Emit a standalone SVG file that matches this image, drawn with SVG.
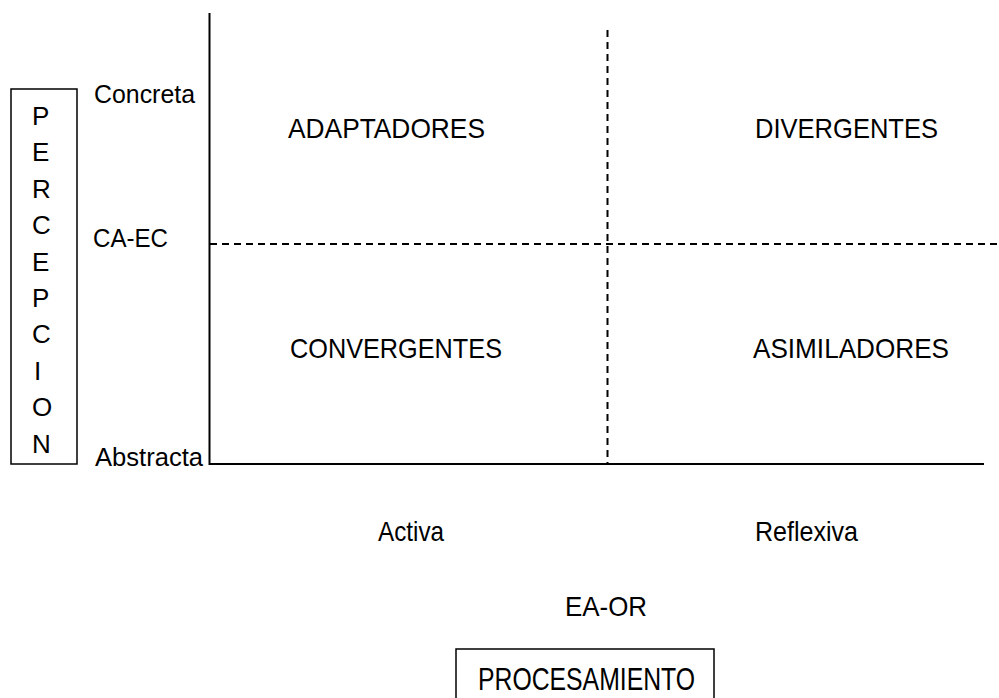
<svg xmlns="http://www.w3.org/2000/svg" width="999" height="698" viewBox="0 0 999 698">
<style>
  text { font-family: "Liberation Sans", Arial, sans-serif; fill: #000; }
  .lbl { font-size: 25px; }
  .q { font-size: 28px; }
  .axis { stroke: #000; stroke-width: 2; fill: none; }
  .dash { stroke: #000; stroke-width: 2; fill: none; stroke-dasharray: 7 5; }
  .box { stroke: #000; stroke-width: 1.5; fill: #fff; }
  .v { font-size: 26px; }
</style>
<rect width="999" height="698" fill="#fff"/>
<g id="connectors">
  <line class="axis" x1="209.5" y1="13" x2="209.5" y2="465"/>
  <line class="axis" x1="209" y1="464" x2="984" y2="464"/>
  <line class="dash" x1="607.5" y1="30" x2="607.5" y2="464"/>
  <line class="dash" x1="210" y1="244" x2="999" y2="244"/>
</g>
<g id="percepcion">
  <rect class="box" x="11" y="89" width="66" height="375"/>
  <text class="v" x="32" y="125">P</text>
  <text class="v" x="32" y="161.4">E</text>
  <text class="v" x="32" y="197.8">R</text>
  <text class="v" x="32" y="234.2">C</text>
  <text class="v" x="32" y="270.6">E</text>
  <text class="v" x="32" y="307">P</text>
  <text class="v" x="32" y="343.4">C</text>
  <text class="v" x="34" y="379.8">I</text>
  <text class="v" x="32" y="416.2">O</text>
  <text class="v" x="32" y="452.6">N</text>
</g>
<g id="y-labels">
  <text class="lbl" x="94" y="103" textLength="101" lengthAdjust="spacingAndGlyphs">Concreta</text>
  <text class="lbl" x="93" y="247" textLength="75" lengthAdjust="spacingAndGlyphs">CA-EC</text>
  <text class="lbl" x="95" y="466" textLength="108" lengthAdjust="spacingAndGlyphs">Abstracta</text>
</g>
<g id="adaptadores"><text class="q" x="288" y="138" textLength="197" lengthAdjust="spacingAndGlyphs">ADAPTADORES</text></g>
<g id="divergentes"><text class="q" x="755" y="138" textLength="183" lengthAdjust="spacingAndGlyphs">DIVERGENTES</text></g>
<g id="convergentes"><text class="q" x="290" y="358" textLength="212" lengthAdjust="spacingAndGlyphs">CONVERGENTES</text></g>
<g id="asimiladores"><text class="q" x="753" y="358" textLength="196" lengthAdjust="spacingAndGlyphs">ASIMILADORES</text></g>
<g id="x-labels">
  <text class="q" x="378" y="541" textLength="66" lengthAdjust="spacingAndGlyphs">Activa</text>
  <text class="q" x="755" y="541" textLength="103" lengthAdjust="spacingAndGlyphs">Reflexiva</text>
  <text class="q" x="565" y="616" textLength="82" lengthAdjust="spacingAndGlyphs">EA-OR</text>
</g>
<g id="procesamiento">
  <rect class="box" x="456" y="649" width="258" height="60"/>
  <text x="478" y="690" font-size="32" textLength="217" lengthAdjust="spacingAndGlyphs">PROCESAMIENTO</text>
</g>
</svg>
